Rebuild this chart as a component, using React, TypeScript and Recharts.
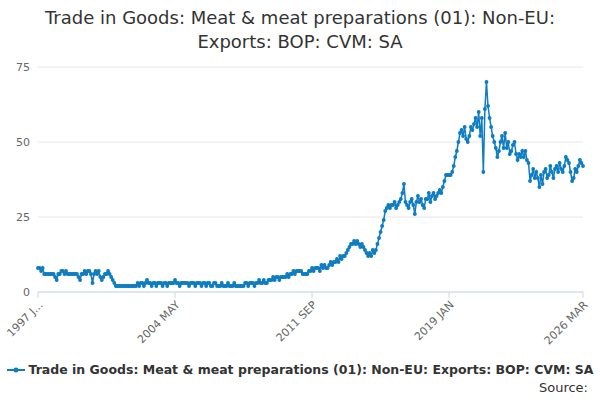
import React from "react";
import { LineChart, Line, XAxis, YAxis, CartesianGrid, Legend } from "recharts";

const MONTHS = ["JAN","FEB","MAR","APR","MAY","JUN","JUL","AUG","SEP","OCT","NOV","DEC"];
const startYear = 1997;

const values: number[] = [
  8,8,7,8,6,6,6,6,6,6,6,5,
  4,6,6,7,7,6,7,6,6,6,6,6,
  6,6,5,4,6,6,7,6,7,7,6,3,
  6,7,6,7,5,4,5,6,6,7,6,5,
  4,3,2,2,2,2,2,2,2,2,2,2,
  2,2,2,2,3,2,3,3,2,3,4,3,
  3,2,3,3,2,3,3,3,2,3,3,2,
  3,3,3,3,4,3,3,2,3,3,3,3,
  3,2,3,3,3,2,3,3,3,2,3,3,
  2,3,3,2,2,3,3,2,2,2,3,2,
  2,2,3,2,2,2,3,2,2,2,2,2,
  2,3,3,2,3,3,3,2,3,3,4,3,
  3,4,3,3,4,4,4,5,4,5,5,4,
  5,5,5,5,6,5,6,6,7,6,7,7,
  7,7,6,6,6,6,7,7,8,7,8,8,
  8,7,9,8,9,8,8,9,10,9,10,10,
  11,10,12,11,12,12,13,14,15,16,16,17,
  16,17,16,15,16,15,14,13,12,13,12,14,
  13,14,16,18,20,22,24,27,28,29,28,29,
  29,30,28,29,30,31,33,36,30,29,28,30,
  31,29,26,30,32,30,31,29,28,31,31,33,
  30,32,33,31,32,33,34,33,35,37,39,39,
  39,39,40,42,45,47,50,53,54,52,55,51,
  50,52,55,54,56,58,55,60,52,58,40,61,
  70,62,58,55,52,50,48,45,47,50,52,48,
  53,48,50,46,47,49,50,46,44,46,45,47,
  45,47,44,43,37,39,41,38,40,38,35,39,
  36,40,41,38,39,42,40,38,41,42,40,43,
  41,40,42,45,44,43,40,37,38,41,40,42,
  44,43,42,
];

const data = values.map((v, i) => ({
  date: `${startYear + Math.floor(i / 12)} ${MONTHS[i % 12]}`,
  value: v,
}));

const labelTicks = [0, 88, 176, 264, 350].map((i) => data[i].date);
const yTicks = [0, 25, 50, 75];
const seriesName = "Trade in Goods: Meat & meat preparations (01): Non-EU: Exports: BOP: CVM: SA";
const COLOR = "#0f7dc2";

const fmt = (s: string) => (s === data[0].date ? "1997 J..." : s);

const renderLegend = () => (
  <div style={{ display: "flex", alignItems: "center", justifyContent: "center", width: 600, whiteSpace: "nowrap", fontSize: 12.5, fontWeight: "bold", color: "#333" }}>
    <svg width={18} height={10} style={{ marginRight: 4 }}>
      <line x1={0} y1={5} x2={18} y2={5} stroke={COLOR} strokeWidth={2} />
      <circle cx={9} cy={5} r={2.5} fill={COLOR} />
    </svg>
    {seriesName}
  </div>
);

export default function App() {
  return (
    <div style={{ position: "absolute", left: 0, top: 0, width: 600, height: 400, fontFamily: "DejaVu Sans, sans-serif", background: "#fff" }}>
      <div style={{ position: "absolute", top: 6, left: 0, width: 600, textAlign: "center", fontSize: 18, lineHeight: "24px", color: "#333" }}>
        Trade in Goods: Meat &amp; meat preparations (01): Non-EU:<br />Exports: BOP: CVM: SA
      </div>
      <LineChart width={600} height={400} data={data} margin={{ top: 67, right: 17, left: 0, bottom: 18 }}>
        <CartesianGrid vertical={false} stroke="#e6e6e6" />
        <XAxis
          dataKey="date"
          ticks={labelTicks}
          interval={0}
          tickFormatter={fmt}
          angle={-45}
          textAnchor="end"
          height={70}
          tick={{ fontSize: 11, fill: "#666" }}
          stroke="#ccd6eb"
          tickLine={{ stroke: "#ccd6eb" }}
        />
        <YAxis
          width={38}
          domain={[0, 75]}
          ticks={yTicks}
          axisLine={false}
          tickLine={false}
          tick={{ fontSize: 11, fill: "#666" }}
        />
        <Legend verticalAlign="bottom" height={20} content={renderLegend} wrapperStyle={{ left: 0, width: 600 }} />
        <Line
          name={seriesName}
          dataKey="value"
          stroke={COLOR}
          strokeWidth={1.5}
          dot={{ r: 1.2, fill: COLOR, stroke: COLOR }}
          isAnimationActive={false}
        />
      </LineChart>
      <div style={{ position: "absolute", right: 12, top: 380, fontSize: 13, color: "#333" }}>Source:</div>
    </div>
  );
}
